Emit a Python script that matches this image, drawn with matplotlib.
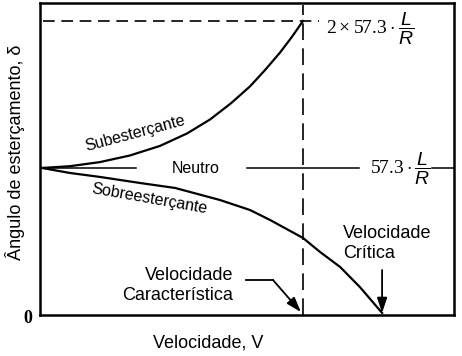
import matplotlib
matplotlib.use("Agg")
import matplotlib.pyplot as plt

plt.rcParams['font.family'] = ['Liberation Sans', 'DejaVu Sans']
plt.rcParams['mathtext.fontset'] = 'custom'
plt.rcParams['mathtext.rm'] = 'Liberation Serif'
plt.rcParams['mathtext.it'] = 'Liberation Sans:italic'

# speed normalised by the characteristic speed, steer angle by 57.3 L/R
v_sub = [0.0, 0.107, 0.222, 0.337, 0.452, 0.556, 0.644, 0.724, 0.797, 0.854, 0.912, 0.958, 1.0]
d_sub = [1.0, 1.012, 1.04, 1.085, 1.15, 1.235, 1.33, 1.44, 1.555, 1.665, 1.785, 1.893, 2.0]

v_sobre = [0.0, 0.107, 0.222, 0.375, 0.51, 0.682, 0.797, 0.874, 1.0, 1.065, 1.142, 1.218, 1.303]
d_sobre = [1.0, 0.966, 0.939, 0.898, 0.864, 0.782, 0.714, 0.646, 0.524, 0.429, 0.327, 0.190, 0.014]

v_char = 1.0      # velocidade caracteristica
v_crit = 1.303    # velocidade critica
d_neutro = 1.0    # 57.3 L/R
d_double = 2.0    # 2 x 57.3 L/R

fig = plt.figure(figsize=(4.62, 3.56), dpi=100)
ax = fig.add_axes([40/462, 41/356, 414/462, 312/356])
ax.set_xlim(-0.0077, 1.5785)
ax.set_ylim(0, 2.122)
ax.set_xticks([])
ax.set_yticks([])
for s in ax.spines.values():
    s.set_linewidth(1.8)

ax.plot(v_sub, d_sub, color='black', lw=1.6)
ax.plot(v_sobre, d_sobre, color='black', lw=1.6)

# neutral line, broken around its labels
for a, b in [(0.004, 0.36), (0.785, 1.215), (1.494, 1.6)]:
    ax.plot([a, b], [d_neutro, d_neutro], color='black', lw=1.1)

ax.plot([0.004, 1.061], [d_double, d_double], color='black', lw=1.2, dashes=(7, 4))
ax.plot([v_char, v_char], [0, 2.11], color='black', lw=1.2, dashes=(10, 5))

ax.text(0.356, 1.238, 'Subesterçante', fontsize=11.5, rotation=15,
        rotation_mode='anchor', ha='center', va='center')
ax.text(0.41, 0.789, 'Sobreesterçante', fontsize=11.5, rotation=-10,
        rotation_mode='anchor', ha='center', va='center')
ax.text(0.59, 0.966, 'Neutro', fontsize=11.5, ha='center', va='baseline')

ax.text(1.088, 1.945, r'$2\times57.3\cdot\dfrac{L}{R}$', fontsize=14,
        ha='left', va='center')
ax.text(1.257, d_neutro - 0.01, r'$57.3\cdot\dfrac{L}{R}$', fontsize=14,
        ha='left', va='center')

ax.text(0.732, 0.075, 'Velocidade\nCaracterística', fontsize=13,
        ha='right', va='bottom', multialignment='right', linespacing=1.2)
ax.text(1.153, 0.61, 'Velocidade\nCrítica', fontsize=13,
        ha='left', va='top', linespacing=1.2)

ax.plot([0.782, 0.885], [0.238, 0.238], color='black', lw=1.3)
ax.annotate('', xy=(0.992, 0.02), xytext=(0.885, 0.238),
            arrowprops=dict(arrowstyle='-|>,head_length=0.9,head_width=0.3',
                            color='black', lw=1.3, shrinkA=0, shrinkB=0,
                            mutation_scale=10))
ax.annotate('', xy=(v_crit, 0.014), xytext=(v_crit, 0.306),
            arrowprops=dict(arrowstyle='-|>,head_length=0.9,head_width=0.3',
                            color='black', lw=1.3, shrinkA=0, shrinkB=0,
                            mutation_scale=10))

ax.text(-0.054, -0.027, '0', fontsize=13, fontweight='bold',
        family='Liberation Serif', ha='center', va='center', clip_on=False)

fig.text(15/462, 1 - 152/356, 'Ângulo de esterçamento, δ', fontsize=13,
         rotation=90, ha='center', va='center')
fig.text(208/462, 1 - 343/356, 'Velocidade, V', fontsize=13,
         ha='center', va='center')

fig.savefig('out.png', dpi=100)
